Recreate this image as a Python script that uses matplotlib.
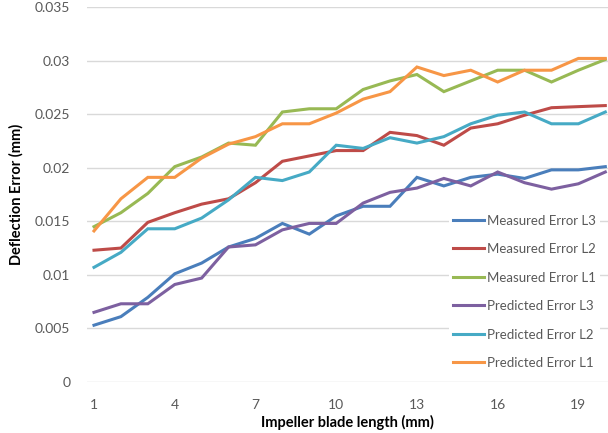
import numpy as np
import matplotlib.pyplot as plt

# Blade length positions (mm)
x = np.arange(1, 21)

# Deflection errors (mm)
measured_l3 = [0.0053, 0.0061, 0.0079, 0.0101, 0.0111, 0.0126, 0.0134, 0.0148, 0.0138, 0.0155,
               0.0164, 0.0164, 0.0191, 0.0183, 0.0191, 0.0194, 0.0190, 0.0198, 0.0198, 0.0201]
measured_l2 = [0.0123, 0.0125, 0.0149, 0.0158, 0.0166, 0.0171, 0.0186, 0.0206, 0.0211, 0.0216,
               0.0216, 0.0233, 0.0230, 0.0221, 0.0237, 0.0241, 0.0249, 0.0256, 0.0257, 0.0258]
measured_l1 = [0.0145, 0.0158, 0.0176, 0.0201, 0.0210, 0.0223, 0.0221, 0.0252, 0.0255, 0.0255,
               0.0273, 0.0281, 0.0287, 0.0271, 0.0281, 0.0291, 0.0291, 0.0280, 0.0291, 0.0301]
predicted_l3 = [0.0065, 0.0073, 0.0073, 0.0091, 0.0097, 0.0126, 0.0128, 0.0142, 0.0148, 0.0148,
                0.0167, 0.0177, 0.0181, 0.0190, 0.0183, 0.0196, 0.0186, 0.0180, 0.0185, 0.0196]
predicted_l2 = [0.0107, 0.0121, 0.0143, 0.0143, 0.0153, 0.0170, 0.0191, 0.0188, 0.0196, 0.0221,
                0.0218, 0.0228, 0.0223, 0.0229, 0.0241, 0.0249, 0.0252, 0.0241, 0.0241, 0.0252]
predicted_l1 = [0.0141, 0.0171, 0.0191, 0.0191, 0.0209, 0.0222, 0.0229, 0.0241, 0.0241, 0.0251,
                0.0264, 0.0271, 0.0294, 0.0286, 0.0291, 0.0280, 0.0291, 0.0291, 0.0302, 0.0302]

labels = ['Measured Error L3', 'Measured Error L2', 'Measured Error L1',
          'Predicted Error L3', 'Predicted Error L2', 'Predicted Error L1']
colors = ['#4a7ebb', '#be4b48', '#98b954', '#7d60a0', '#46aac5', '#f79646']
series = [measured_l3, measured_l2, measured_l1, predicted_l3, predicted_l2, predicted_l1]

plt.rcParams['font.family'] = ['Lato', 'DejaVu Sans']

fig = plt.figure(figsize=(6.08, 4.33), dpi=100)
ax = fig.add_axes([87 / 608, 51 / 433, 521 / 608, 375 / 433])

for y, c, lab in zip(series, colors, labels):
    ax.plot(x, y, color=c, lw=2.2, label=lab, solid_joinstyle='miter')

ax.set_xlim(0.74, 20.1)
ax.set_ylim(0, 0.035)
ax.set_xticks([1, 4, 7, 10, 13, 16, 19])
ax.set_yticks(np.arange(0, 0.0351, 0.005))
ax.set_yticklabels(['0', '0.005', '0.01', '0.015', '0.02', '0.025', '0.03', '0.035'])
ax.tick_params(length=0, labelsize=10, labelcolor='#595959', pad=12)
ax.tick_params(axis='x', pad=12)

ax.grid(axis='y', color='#d9d9d9', lw=1)
ax.set_axisbelow(True)
for s in ax.spines.values():
    s.set_visible(False)

ax.set_xlabel('Impeller blade length (mm)', fontsize=10.5, fontweight='bold', labelpad=3)
ax.set_ylabel('Deflection Error (mm)', fontsize=10.5, fontweight='bold', labelpad=8)

leg = ax.legend(loc='center left', bbox_to_anchor=(442 / 608, 0.326),
                bbox_transform=fig.transFigure, fontsize=9.5, frameon=True,
                facecolor='white', edgecolor='none', framealpha=1,
                handlelength=2.4, handletextpad=0.2, labelspacing=1.25, borderpad=0.3)
for t in leg.get_texts():
    t.set_color('#595959')

fig.savefig('out.png', dpi=100)
